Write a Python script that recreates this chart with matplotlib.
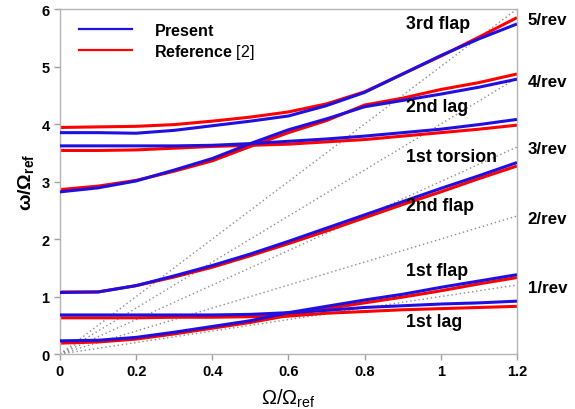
import matplotlib
matplotlib.use("Agg")
import matplotlib.pyplot as plt
import numpy as np

plt.rcParams['font.family'] = ['Liberation Sans', 'DejaVu Sans']
plt.rcParams['mathtext.fontset'] = 'custom'
plt.rcParams['mathtext.rm'] = 'Liberation Sans'
plt.rcParams['mathtext.it'] = 'Liberation Sans'
plt.rcParams['mathtext.bf'] = 'Liberation Sans:bold'

# rotor speed ratio
omega = [0.0, 0.1, 0.2, 0.3, 0.4, 0.5, 0.6, 0.7, 0.8, 0.9, 1.0, 1.1, 1.2]

# natural frequencies, present analysis
present_lag1 = [0.68, 0.68, 0.68, 0.68, 0.68, 0.69, 0.72, 0.76, 0.81, 0.84, 0.87, 0.89, 0.92]
present_flap1 = [0.23, 0.24, 0.29, 0.38, 0.48, 0.58, 0.72, 0.83, 0.94, 1.04, 1.16, 1.27, 1.38]
present_flap2 = [1.07, 1.08, 1.19, 1.36, 1.54, 1.74, 1.96, 2.19, 2.42, 2.65, 2.88, 3.10, 3.33]
present_tors1 = [3.62, 3.62, 3.62, 3.62, 3.63, 3.66, 3.70, 3.74, 3.79, 3.85, 3.91, 3.99, 4.08]
present_lag2 = [2.82, 2.89, 3.01, 3.20, 3.40, 3.66, 3.90, 4.09, 4.30, 4.41, 4.52, 4.64, 4.78]
present_flap3 = [3.85, 3.85, 3.84, 3.89, 3.97, 4.05, 4.14, 4.32, 4.55, 4.87, 5.19, 5.48, 5.74]

# natural frequencies, reference [2]
ref_lag1 = [0.63, 0.63, 0.63, 0.64, 0.64, 0.65, 0.66, 0.71, 0.74, 0.77, 0.79, 0.81, 0.83]
ref_flap1 = [0.19, 0.21, 0.26, 0.35, 0.45, 0.55, 0.67, 0.79, 0.89, 0.99, 1.10, 1.22, 1.33]
ref_flap2 = [1.08, 1.08, 1.19, 1.34, 1.51, 1.71, 1.92, 2.14, 2.37, 2.60, 2.82, 3.05, 3.27]
ref_tors1 = [3.54, 3.54, 3.55, 3.58, 3.61, 3.63, 3.65, 3.69, 3.73, 3.79, 3.85, 3.91, 3.98]
ref_lag2 = [2.86, 2.92, 3.02, 3.18, 3.36, 3.61, 3.85, 4.06, 4.33, 4.45, 4.60, 4.72, 4.87]
ref_flap3 = [3.94, 3.95, 3.96, 3.99, 4.05, 4.12, 4.21, 4.35, 4.56, 4.87, 5.18, 5.51, 5.85]

present = [present_lag1, present_flap1, present_flap2, present_tors1, present_lag2, present_flap3]
reference = [ref_lag1, ref_flap1, ref_flap2, ref_tors1, ref_lag2, ref_flap3]

mode_names = ["1st lag", "1st flap", "2nd flap", "1st torsion", "2nd lag", "3rd flap"]
mode_label_y = [0.56, 1.46, 2.59, 3.44, 4.30, 5.74]

revs = [1, 2, 3, 4, 5]
rev_label_y = [1.15, 2.35, 3.58, 4.74, 5.81]

BLUE = "#2010e0"
RED = "#ff0000"

fig = plt.figure(figsize=(5.75, 4.1), dpi=100)
ax = fig.add_axes([0.1043, 0.134, 0.7947, 0.8416])

# n/rev lines
x_end = omega[-1]
for n in revs:
    ax.plot([0, x_end], [0, n * x_end], linestyle=(0, (1, 2)), color="#8c8c8c", lw=1.0, zorder=1)

for ref_vals, pres_vals in zip(reference, present):
    ax.plot(omega, ref_vals, color=RED, lw=2.2, zorder=2, solid_capstyle='butt')
    ax.plot(omega, pres_vals, color=BLUE, lw=2.2, zorder=3, solid_capstyle='butt')

for name, y in zip(mode_names, mode_label_y):
    ax.text(0.91, y, name, fontsize=12.8, fontweight='bold', ha='left', va='center')

for n, y in zip(revs, rev_label_y):
    ax.text(1.228, y, f"{n}/rev", fontsize=12.2, fontweight='bold', ha='left', va='center',
            clip_on=False)

h1, = ax.plot([], [], color=BLUE, lw=1.6)
h2, = ax.plot([], [], color=RED, lw=1.6)
ax.legend([h1, h2], [r"$\mathbf{Present}$", r"$\mathbf{Reference}$ [2]"], loc='upper left',
          bbox_to_anchor=(0.01, 1.005), frameon=False, fontsize=11.5,
          handlelength=3.3, handletextpad=1.4, labelspacing=0.25)

ax.set_xlim(0, 1.2)
ax.set_ylim(0, 6)
ax.set_xticks([0, 0.2, 0.4, 0.6, 0.8, 1.0, 1.2])
ax.set_xticklabels(["0", "0.2", "0.4", "0.6", "0.8", "1", "1.2"])
ax.set_yticks([0, 1, 2, 3, 4, 5, 6])
for lab in ax.get_xticklabels() + ax.get_yticklabels():
    lab.set_fontweight('bold')
    lab.set_fontsize(10.5)
ax.tick_params(direction='out', length=4, color="#a0a0a0", width=1)
for sp in ax.spines.values():
    sp.set_color("#b4b4b4")
    sp.set_linewidth(1.0)

ax.set_xlabel(r"$\Omega/\Omega_{\rm ref}$", fontsize=14.5, labelpad=6)
ax.set_ylabel(r"$\mathbf{\omega/\Omega_{ref}}$", fontsize=14, labelpad=4)

fig.savefig("out.png", dpi=100)
